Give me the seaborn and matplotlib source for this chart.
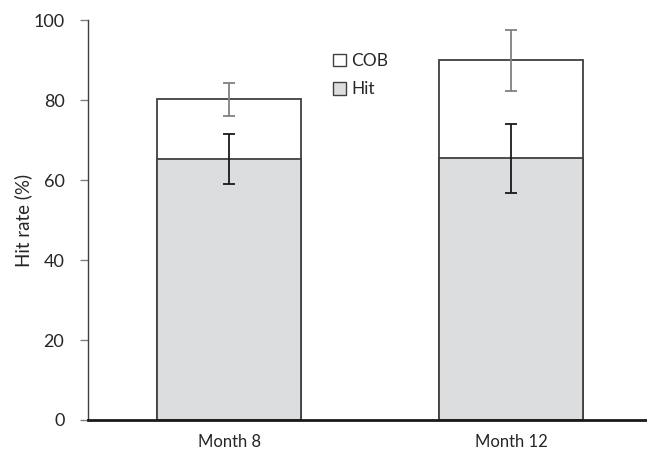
import matplotlib
matplotlib.use("Agg")
import matplotlib.pyplot as plt
import seaborn as sns
import pandas as pd
from matplotlib.patches import Patch

categories = ["Month 8", "Month 12"]
hit = [65.3, 65.4]
hit_err = [6.3, 8.7]
cob_total = [80.2, 90.0]
cob_err = [4.2, 7.6]
yticks = [0, 20, 40, 60, 80, 100]

sns.set_style("white")
plt.rcParams['font.family'] = ['Lato', 'DejaVu Sans']

df = pd.DataFrame({"cat": categories, "hit": hit, "cob": cob_total})

fig = plt.figure(figsize=(6.47, 4.58), dpi=100)
ax = fig.add_axes([0.136, 0.083, 0.864, 0.873])

edge = "#404040"
sns.barplot(data=df, x="cat", y="cob", color="white", edgecolor=edge,
            linewidth=1.3, width=0.51, ax=ax, saturation=1)
sns.barplot(data=df, x="cat", y="hit", color="#dcdddf", edgecolor=edge,
            linewidth=1.3, width=0.51, ax=ax, saturation=1)

xs = list(range(len(categories)))
ax.errorbar(xs, cob_total, yerr=cob_err, fmt="none", ecolor="#808080",
            elinewidth=1.3, capsize=4, capthick=1.3)
ax.errorbar(xs, hit, yerr=hit_err, fmt="none", ecolor="#1a1a1a",
            elinewidth=1.3, capsize=4, capthick=1.3)

ax.set_xlim(-0.5, 1.48)
ax.set_ylim(0, 100)
ax.set_yticks(yticks)
ax.set_yticklabels([str(t) for t in yticks], fontsize=13, color="#262626")
ax.tick_params(axis="x", labelsize=12, colors="#262626", length=0, pad=10)
ax.tick_params(axis="y", left=True, length=6, width=1, color="#808080", pad=11)
ax.set_xlabel("")
ax.set_ylabel("Hit rate (%)", fontsize=13.5, color="#262626")
ax.yaxis.set_label_coords(-0.1, 0.5)

for s in ["top", "right"]:
    ax.spines[s].set_visible(False)
ax.spines["left"].set_color("#404040")
ax.spines["left"].set_linewidth(1.0)
ax.spines["bottom"].set_color("#1a1a1a")
ax.spines["bottom"].set_linewidth(2.0)

handles = [Patch(facecolor="white", edgecolor="#404040", label="COB"),
           Patch(facecolor="#dcdddf", edgecolor="#404040", label="Hit")]
ax.legend(handles=handles, loc="upper left", bbox_to_anchor=(0.425, 0.935),
          frameon=False, fontsize=12.5, handlelength=0.75, handleheight=0.75,
          handletextpad=0.35, labelspacing=0.7, borderaxespad=0)

fig.savefig("out.png", dpi=100)
